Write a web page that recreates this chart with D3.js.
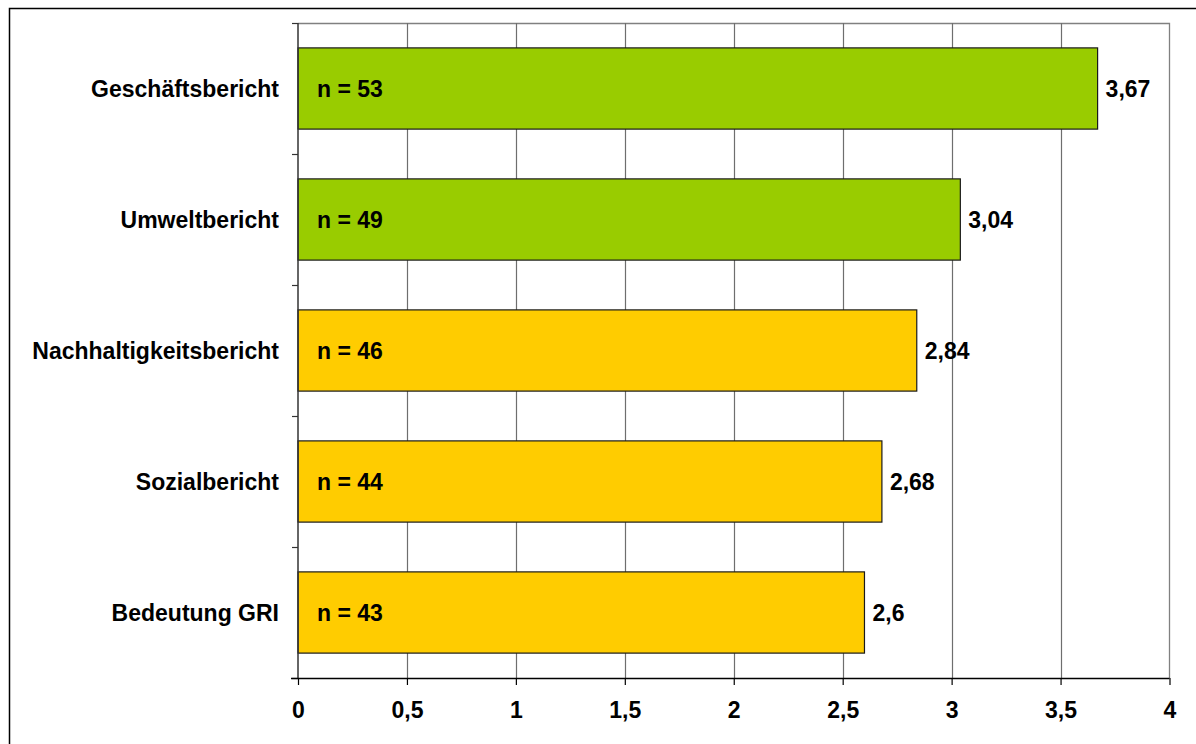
<!DOCTYPE html>
<html>
<head>
<meta charset="utf-8">
<script src="https://cdn.jsdelivr.net/npm/d3@7"></script>
<style>
  html, body { margin: 0; padding: 0; background: #fff; }
  svg { display: block; }
  text { font-family: "Liberation Sans", Arial, sans-serif; font-weight: bold; fill: #000; }
</style>
</head>
<body>
<svg id="chart" width="1196" height="744"></svg>
<script>
// Report types, mean rating and number of answers
const categories = ["Geschäftsbericht", "Umweltbericht", "Nachhaltigkeitsbericht", "Sozialbericht", "Bedeutung GRI"];
const means = [3.67, 3.04, 2.84, 2.68, 2.6];
const counts = [53, 49, 46, 44, 43];
const barColors = ["#99CC00", "#99CC00", "#FFCC00", "#FFCC00", "#FFCC00"];
const xTicks = [0, 0.5, 1, 1.5, 2, 2.5, 3, 3.5, 4];

const svg = d3.select("#chart");
const fontSize = 23;
const plot = { left: 298, right: 1169.5, top: 23, bottom: 678 };

const fmt = v => String(v).replace(".", ",");

// Outer frame
svg.append("rect")
  .attr("x", 9.5).attr("y", 8.5)
  .attr("width", 1200).attr("height", 760)
  .attr("fill", "none").attr("stroke", "#000").attr("stroke-width", 1.5);

const x = d3.scaleLinear().domain([0, 4]).range([plot.left, plot.right]);
const y = d3.scaleBand().domain(categories).range([plot.top, plot.bottom])
  .paddingInner(0.38).paddingOuter(0.19);

// Plot-area border (top and right)
svg.append("path")
  .attr("d", `M${plot.left},${plot.top + 0.5}H${plot.right}V${plot.bottom}`)
  .attr("fill", "none").attr("stroke", "#808080").attr("stroke-width", 1.3);

// Vertical gridlines
svg.append("g")
  .selectAll("line")
  .data(xTicks.filter(t => t > 0 && t < 4))
  .join("line")
  .attr("x1", d => Math.round(x(d)) + 0.5).attr("x2", d => Math.round(x(d)) + 0.5)
  .attr("y1", plot.top).attr("y2", plot.bottom)
  .attr("stroke", "#6e6e6e").attr("stroke-width", 1.2);

// Bars
svg.append("g")
  .selectAll("rect")
  .data(categories)
  .join("rect")
  .attr("x", x(0))
  .attr("y", d => y(d))
  .attr("width", (d, i) => x(means[i]) - x(0))
  .attr("height", y.bandwidth())
  .attr("fill", (d, i) => barColors[i])
  .attr("stroke", "#1a1a1a").attr("stroke-width", 1.2);

// Counts inside bars
svg.append("g")
  .selectAll("text")
  .data(categories)
  .join("text")
  .attr("x", x(0) + 19)
  .attr("y", d => y(d) + y.bandwidth() / 2)
  .attr("dy", "0.36em")
  .attr("font-size", fontSize)
  .text((d, i) => "n = " + counts[i]);

// Mean values right of bars
svg.append("g")
  .selectAll("text")
  .data(categories)
  .join("text")
  .attr("x", (d, i) => x(means[i]) + 8)
  .attr("y", d => y(d) + y.bandwidth() / 2)
  .attr("dy", "0.36em")
  .attr("font-size", fontSize)
  .text((d, i) => fmt(means[i]));

// Category axis with tick marks at band boundaries
const yAxis = svg.append("g")
  .attr("transform", `translate(${plot.left},0)`);
yAxis.append("line")
  .attr("x1", 0).attr("x2", 0)
  .attr("y1", plot.top).attr("y2", plot.bottom)
  .attr("stroke", "#333").attr("stroke-width", 1.5);
yAxis.selectAll("line.tick")
  .data(d3.range(categories.length + 1))
  .join("line")
  .attr("class", "tick")
  .attr("x1", -6).attr("x2", 0)
  .attr("y1", i => Math.round(plot.top + i * y.step()) + 0.5)
  .attr("y2", i => Math.round(plot.top + i * y.step()) + 0.5)
  .attr("stroke", "#333").attr("stroke-width", 1.2);
yAxis.selectAll("text")
  .data(categories)
  .join("text")
  .attr("x", -19)
  .attr("y", d => y(d) + y.bandwidth() / 2)
  .attr("dy", "0.36em")
  .attr("text-anchor", "end")
  .attr("font-size", fontSize)
  .text(d => d);

// Value axis
const xAxis = svg.append("g")
  .attr("transform", `translate(0,${plot.bottom})`)
  .call(d3.axisBottom(x).tickValues(xTicks).tickSize(7).tickPadding(17).tickFormat(fmt));
xAxis.select(".domain").remove();
xAxis.append("line")
  .attr("x1", plot.left - 7).attr("x2", plot.right)
  .attr("y1", 0.5).attr("y2", 0.5)
  .attr("stroke", "#000").attr("stroke-width", 1.5);
xAxis.selectAll(".tick line").attr("stroke", "#000").attr("stroke-width", 1.2);
xAxis.selectAll(".tick text")
  .attr("font-size", fontSize)
  .attr("font-family", "Liberation Sans, Arial, sans-serif")
  .attr("font-weight", "bold")
  .attr("fill", "#000");
</script>
</body>
</html>
